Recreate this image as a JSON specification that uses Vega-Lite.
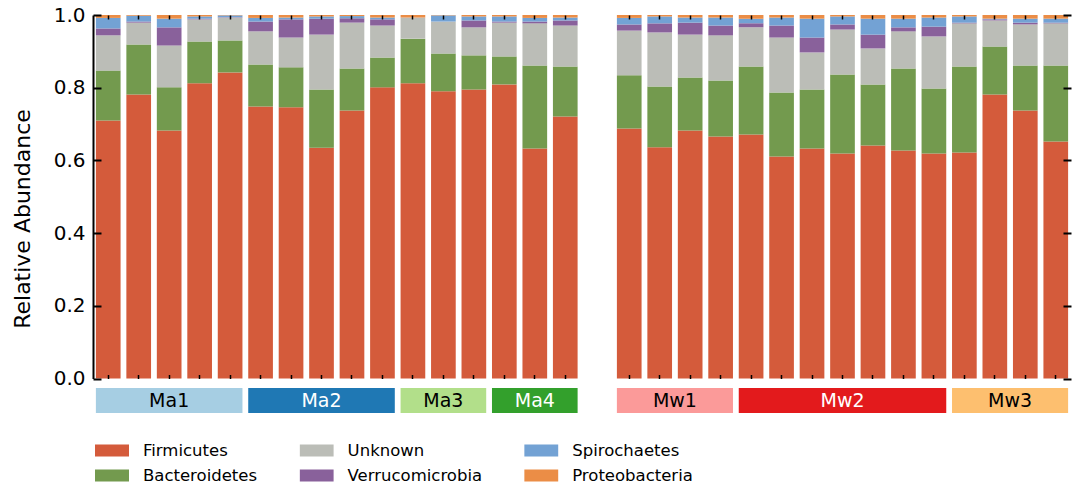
{
  "$schema": "https://vega.github.io/schema/vega-lite/v6.json",
  "padding": {"left": 11, "top": 5, "right": 5, "bottom": 5},
  "config": {
    "font": "DejaVu Sans",
    "view": {"stroke": null},
    "legend": {
      "labelFont": "DejaVu Sans",
      "labelFontSize": 16.5,
      "labelColor": "black",
      "symbolType": "M-1,-0.353H1V0.353H-1Z",
      "symbolSize": 1156,
      "symbolStrokeWidth": 0,
      "symbolOpacity": 1,
      "clipHeight": 22,
      "rowPadding": 3,
      "columnPadding": 41.6,
      "labelOffset": 14,
      "padding": 0
    }
  },
  "datasets": {
    "phyla": [
      {"phylum": "Firmicutes", "rank": 0},
      {"phylum": "Bacteroidetes", "rank": 1},
      {"phylum": "Unknown", "rank": 2},
      {"phylum": "Verrucomicrobia", "rank": 3},
      {"phylum": "Spirochaetes", "rank": 4},
      {"phylum": "Proteobacteria", "rank": 5}
    ],
    "ma": [
      {"sample": "Ma1-1", "group": "Ma1", "i": 0, "Firmicutes": 0.710, "Bacteroidetes": 0.137, "Unknown": 0.097, "Verrucomicrobia": 0.019, "Spirochaetes": 0.029, "Proteobacteria": 0.008},
      {"sample": "Ma1-2", "group": "Ma1", "i": 1, "Firmicutes": 0.781, "Bacteroidetes": 0.138, "Unknown": 0.060, "Verrucomicrobia": 0.003, "Spirochaetes": 0.016, "Proteobacteria": 0.002},
      {"sample": "Ma1-3", "group": "Ma1", "i": 2, "Firmicutes": 0.682, "Bacteroidetes": 0.119, "Unknown": 0.115, "Verrucomicrobia": 0.050, "Spirochaetes": 0.024, "Proteobacteria": 0.010},
      {"sample": "Ma1-4", "group": "Ma1", "i": 3, "Firmicutes": 0.812, "Bacteroidetes": 0.115, "Unknown": 0.061, "Verrucomicrobia": 0.002, "Spirochaetes": 0.006, "Proteobacteria": 0.004},
      {"sample": "Ma1-5", "group": "Ma1", "i": 4, "Firmicutes": 0.842, "Bacteroidetes": 0.088, "Unknown": 0.063, "Verrucomicrobia": 0.001, "Spirochaetes": 0.005, "Proteobacteria": 0.001},
      {"sample": "Ma2-1", "group": "Ma2", "i": 5, "Firmicutes": 0.748, "Bacteroidetes": 0.116, "Unknown": 0.091, "Verrucomicrobia": 0.027, "Spirochaetes": 0.010, "Proteobacteria": 0.008},
      {"sample": "Ma2-2", "group": "Ma2", "i": 6, "Firmicutes": 0.746, "Bacteroidetes": 0.110, "Unknown": 0.082, "Verrucomicrobia": 0.050, "Spirochaetes": 0.005, "Proteobacteria": 0.007},
      {"sample": "Ma2-3", "group": "Ma2", "i": 7, "Firmicutes": 0.635, "Bacteroidetes": 0.160, "Unknown": 0.151, "Verrucomicrobia": 0.044, "Spirochaetes": 0.006, "Proteobacteria": 0.004},
      {"sample": "Ma2-4", "group": "Ma2", "i": 8, "Firmicutes": 0.737, "Bacteroidetes": 0.116, "Unknown": 0.126, "Verrucomicrobia": 0.012, "Spirochaetes": 0.006, "Proteobacteria": 0.003},
      {"sample": "Ma2-5", "group": "Ma2", "i": 9, "Firmicutes": 0.801, "Bacteroidetes": 0.082, "Unknown": 0.088, "Verrucomicrobia": 0.017, "Spirochaetes": 0.005, "Proteobacteria": 0.007},
      {"sample": "Ma3-1", "group": "Ma3", "i": 10, "Firmicutes": 0.812, "Bacteroidetes": 0.123, "Unknown": 0.058, "Verrucomicrobia": 0.000, "Spirochaetes": 0.000, "Proteobacteria": 0.007},
      {"sample": "Ma3-2", "group": "Ma3", "i": 11, "Firmicutes": 0.790, "Bacteroidetes": 0.104, "Unknown": 0.088, "Verrucomicrobia": 0.000, "Spirochaetes": 0.017, "Proteobacteria": 0.001},
      {"sample": "Ma3-3", "group": "Ma3", "i": 12, "Firmicutes": 0.795, "Bacteroidetes": 0.094, "Unknown": 0.077, "Verrucomicrobia": 0.019, "Spirochaetes": 0.011, "Proteobacteria": 0.004},
      {"sample": "Ma4-1", "group": "Ma4", "i": 13, "Firmicutes": 0.809, "Bacteroidetes": 0.077, "Unknown": 0.093, "Verrucomicrobia": 0.003, "Spirochaetes": 0.014, "Proteobacteria": 0.004},
      {"sample": "Ma4-2", "group": "Ma4", "i": 14, "Firmicutes": 0.633, "Bacteroidetes": 0.228, "Unknown": 0.116, "Verrucomicrobia": 0.005, "Spirochaetes": 0.010, "Proteobacteria": 0.008},
      {"sample": "Ma4-3", "group": "Ma4", "i": 15, "Firmicutes": 0.721, "Bacteroidetes": 0.137, "Unknown": 0.113, "Verrucomicrobia": 0.014, "Spirochaetes": 0.008, "Proteobacteria": 0.007}
    ],
    "mw": [
      {"sample": "Mw1-1", "group": "Mw1", "i": 0, "Firmicutes": 0.688, "Bacteroidetes": 0.146, "Unknown": 0.123, "Verrucomicrobia": 0.017, "Spirochaetes": 0.018, "Proteobacteria": 0.008},
      {"sample": "Mw1-2", "group": "Mw1", "i": 1, "Firmicutes": 0.636, "Bacteroidetes": 0.167, "Unknown": 0.149, "Verrucomicrobia": 0.025, "Spirochaetes": 0.019, "Proteobacteria": 0.004},
      {"sample": "Mw1-3", "group": "Mw1", "i": 2, "Firmicutes": 0.682, "Bacteroidetes": 0.146, "Unknown": 0.118, "Verrucomicrobia": 0.033, "Spirochaetes": 0.014, "Proteobacteria": 0.007},
      {"sample": "Mw1-4", "group": "Mw1", "i": 3, "Firmicutes": 0.666, "Bacteroidetes": 0.154, "Unknown": 0.124, "Verrucomicrobia": 0.027, "Spirochaetes": 0.022, "Proteobacteria": 0.007},
      {"sample": "Mw2-1", "group": "Mw2", "i": 4, "Firmicutes": 0.671, "Bacteroidetes": 0.187, "Unknown": 0.108, "Verrucomicrobia": 0.011, "Spirochaetes": 0.013, "Proteobacteria": 0.010},
      {"sample": "Mw2-2", "group": "Mw2", "i": 5, "Firmicutes": 0.611, "Bacteroidetes": 0.176, "Unknown": 0.151, "Verrucomicrobia": 0.033, "Spirochaetes": 0.022, "Proteobacteria": 0.007},
      {"sample": "Mw2-3", "group": "Mw2", "i": 6, "Firmicutes": 0.633, "Bacteroidetes": 0.162, "Unknown": 0.102, "Verrucomicrobia": 0.041, "Spirochaetes": 0.052, "Proteobacteria": 0.010},
      {"sample": "Mw2-4", "group": "Mw2", "i": 7, "Firmicutes": 0.619, "Bacteroidetes": 0.217, "Unknown": 0.124, "Verrucomicrobia": 0.014, "Spirochaetes": 0.022, "Proteobacteria": 0.004},
      {"sample": "Mw2-5", "group": "Mw2", "i": 8, "Firmicutes": 0.641, "Bacteroidetes": 0.168, "Unknown": 0.099, "Verrucomicrobia": 0.038, "Spirochaetes": 0.044, "Proteobacteria": 0.010},
      {"sample": "Mw2-6", "group": "Mw2", "i": 9, "Firmicutes": 0.627, "Bacteroidetes": 0.226, "Unknown": 0.102, "Verrucomicrobia": 0.011, "Spirochaetes": 0.024, "Proteobacteria": 0.010},
      {"sample": "Mw2-7", "group": "Mw2", "i": 10, "Firmicutes": 0.619, "Bacteroidetes": 0.179, "Unknown": 0.143, "Verrucomicrobia": 0.027, "Spirochaetes": 0.025, "Proteobacteria": 0.007},
      {"sample": "Mw3-1", "group": "Mw3", "i": 11, "Firmicutes": 0.622, "Bacteroidetes": 0.236, "Unknown": 0.119, "Verrucomicrobia": 0.002, "Spirochaetes": 0.017, "Proteobacteria": 0.004},
      {"sample": "Mw3-2", "group": "Mw3", "i": 12, "Firmicutes": 0.781, "Bacteroidetes": 0.132, "Unknown": 0.072, "Verrucomicrobia": 0.003, "Spirochaetes": 0.002, "Proteobacteria": 0.010},
      {"sample": "Mw3-3", "group": "Mw3", "i": 13, "Firmicutes": 0.737, "Bacteroidetes": 0.124, "Unknown": 0.113, "Verrucomicrobia": 0.005, "Spirochaetes": 0.011, "Proteobacteria": 0.010},
      {"sample": "Mw3-4", "group": "Mw3", "i": 14, "Firmicutes": 0.652, "Bacteroidetes": 0.209, "Unknown": 0.116, "Verrucomicrobia": 0.002, "Spirochaetes": 0.011, "Proteobacteria": 0.010}
    ]
  },
  "spacing": 33,
  "hconcat": [
    {
      "spacing": 9,
      "bounds": "flush",
      "vconcat": [
        {
          "width": 487.5,
          "height": 363.5,
          "layer": [
            {
              "data": {"name": "ma"},
              "transform": [
                {"fold": ["Firmicutes", "Bacteroidetes", "Unknown", "Verrucomicrobia", "Spirochaetes", "Proteobacteria"], "as": ["phylum", "value"]},
                {"lookup": "phylum", "from": {"data": {"name": "phyla"}, "key": "phylum", "fields": ["rank"]}}
              ],
              "mark": {"type": "bar", "strokeWidth": 0},
              "encoding": {
                "x": {"field": "sample", "type": "nominal", "sort": null,
                  "scale": {"paddingInner": 0.19, "paddingOuter": 0.095},
                  "axis": {"orient": "bottom", "labels": false, "domain": false, "ticks": true, "tickSize": -4, "tickWidth": 1.5, "tickColor": "black", "title": null, "grid": false, "zindex": 1}},
                "y": {"field": "value", "type": "quantitative", "stack": "zero",
                  "scale": {"domain": [0, 1], "nice": false},
                  "axis": {"orient": "left", "values": [0, 0.2, 0.4, 0.6, 0.8, 1.0], "format": ".1f", "tickSize": -8, "tickWidth": 2, "tickColor": "black", "domainColor": "black", "domainWidth": 2, "labelFontSize": 20, "labelColor": "black", "labelPadding": 16, "title": "Relative Abundance", "titleFontSize": 22, "titleFontWeight": "normal", "titleColor": "black", "titlePadding": 19, "titleY": 203.5, "grid": false, "zindex": 1}},
                "color": {"field": "phylum", "type": "nominal",
                  "scale": {"domain": ["Firmicutes", "Unknown", "Spirochaetes", "Bacteroidetes", "Verrucomicrobia", "Proteobacteria"],
                            "range": ["#d45b3b", "#bbbdb7", "#73a2d4", "#739a4e", "#89619b", "#eb8d46"]},
                  "legend": {"title": null, "orient": "none", "legendX": 2, "legendY": 424.5, "columns": 3, "direction": "horizontal"}},
                "order": {"field": "rank", "type": "quantitative", "sort": "ascending"}
              }
            },
            {
              "data": {"name": "ma"},
              "mark": {"type": "bar", "opacity": 0},
              "encoding": {
                "x": {"field": "sample", "type": "nominal", "sort": null,
                  "axis": {"orient": "top", "labels": false, "domain": false, "ticks": true, "tickSize": -4, "tickWidth": 1.5, "tickColor": "black", "title": null, "grid": false, "zindex": 1}}
              }
            }
          ],
          "resolve": {"axis": {"x": "independent"}}
        },
        {
          "width": 487.5,
          "height": 25,
          "data": {"name": "ma"},
          "transform": [
            {"aggregate": [{"op": "min", "field": "i", "as": "first"}, {"op": "max", "field": "i", "as": "last"}, {"op": "mean", "field": "i", "as": "mid"}], "groupby": ["group"]}
          ],
          "layer": [
            {
              "mark": {"type": "rect", "xOffset": -12.35, "x2Offset": 12.35},
              "encoding": {
                "x": {"field": "first", "type": "quantitative", "scale": {"domain": [-0.5, 15.5], "nice": false, "zero": false}, "axis": null},
                "x2": {"field": "last"},
                "fill": {"field": "group", "type": "nominal",
                  "scale": {"domain": ["Ma1", "Ma2", "Ma3", "Ma4", "Mw1", "Mw2", "Mw3"], "range": ["#a6cee3", "#1f78b4", "#b2df8a", "#33a02c", "#fb9a99", "#e31a1c", "#fdbf6f"]},
                  "legend": null}
              }
            },
            {
              "mark": {"type": "text", "fontSize": 19, "baseline": "middle", "align": "center"},
              "encoding": {
                "x": {"field": "mid", "type": "quantitative"},
                "text": {"field": "group"},
                "color": {"condition": {"test": "datum.group === 'Ma2' || datum.group === 'Ma4' || datum.group === 'Mw2'", "value": "white"}, "value": "black"}
              }
            }
          ]
        }
      ]
    },
    {
      "spacing": 9,
      "bounds": "flush",
      "vconcat": [
        {
          "width": 457,
          "height": 363.5,
          "layer": [
            {
              "data": {"name": "mw"},
              "transform": [
                {"fold": ["Firmicutes", "Bacteroidetes", "Unknown", "Verrucomicrobia", "Spirochaetes", "Proteobacteria"], "as": ["phylum", "value"]},
                {"lookup": "phylum", "from": {"data": {"name": "phyla"}, "key": "phylum", "fields": ["rank"]}}
              ],
              "mark": {"type": "bar", "strokeWidth": 0},
              "encoding": {
                "x": {"field": "sample", "type": "nominal", "sort": null,
                  "scale": {"paddingInner": 0.19, "paddingOuter": 0.095},
                  "axis": {"orient": "bottom", "labels": false, "domain": false, "ticks": true, "tickSize": -4, "tickWidth": 1.5, "tickColor": "black", "title": null, "grid": false, "zindex": 1}},
                "y": {"field": "value", "type": "quantitative", "stack": "zero",
                  "scale": {"domain": [0, 1], "nice": false},
                  "axis": {"orient": "right", "values": [0, 0.2, 0.4, 0.6, 0.8, 1.0], "labels": false, "domain": false, "tickSize": -8, "tickWidth": 2, "tickColor": "black", "title": null, "grid": false, "zindex": 1}},
                "color": {"field": "phylum", "type": "nominal",
                  "scale": {"domain": ["Firmicutes", "Unknown", "Spirochaetes", "Bacteroidetes", "Verrucomicrobia", "Proteobacteria"],
                            "range": ["#d45b3b", "#bbbdb7", "#73a2d4", "#739a4e", "#89619b", "#eb8d46"]},
                  "legend": {"title": null, "orient": "none", "legendX": 2, "legendY": 424.5, "columns": 3, "direction": "horizontal"}},
                "order": {"field": "rank", "type": "quantitative", "sort": "ascending"}
              }
            },
            {
              "data": {"name": "mw"},
              "mark": {"type": "bar", "opacity": 0},
              "encoding": {
                "x": {"field": "sample", "type": "nominal", "sort": null,
                  "axis": {"orient": "top", "labels": false, "domain": false, "ticks": true, "tickSize": -4, "tickWidth": 1.5, "tickColor": "black", "title": null, "grid": false, "zindex": 1}}
              }
            }
          ],
          "resolve": {"axis": {"x": "independent"}}
        },
        {
          "width": 457,
          "height": 25,
          "data": {"name": "mw"},
          "transform": [
            {"aggregate": [{"op": "min", "field": "i", "as": "first"}, {"op": "max", "field": "i", "as": "last"}, {"op": "mean", "field": "i", "as": "mid"}], "groupby": ["group"]}
          ],
          "layer": [
            {
              "mark": {"type": "rect", "xOffset": -12.35, "x2Offset": 12.35},
              "encoding": {
                "x": {"field": "first", "type": "quantitative", "scale": {"domain": [-0.5, 14.5], "nice": false, "zero": false}, "axis": null},
                "x2": {"field": "last"},
                "fill": {"field": "group", "type": "nominal",
                  "scale": {"domain": ["Ma1", "Ma2", "Ma3", "Ma4", "Mw1", "Mw2", "Mw3"], "range": ["#a6cee3", "#1f78b4", "#b2df8a", "#33a02c", "#fb9a99", "#e31a1c", "#fdbf6f"]},
                  "legend": null}
              }
            },
            {
              "mark": {"type": "text", "fontSize": 19, "baseline": "middle", "align": "center"},
              "encoding": {
                "x": {"field": "mid", "type": "quantitative"},
                "text": {"field": "group"},
                "color": {"condition": {"test": "datum.group === 'Ma2' || datum.group === 'Ma4' || datum.group === 'Mw2'", "value": "white"}, "value": "black"}
              }
            }
          ]
        }
      ]
    }
  ]
}
